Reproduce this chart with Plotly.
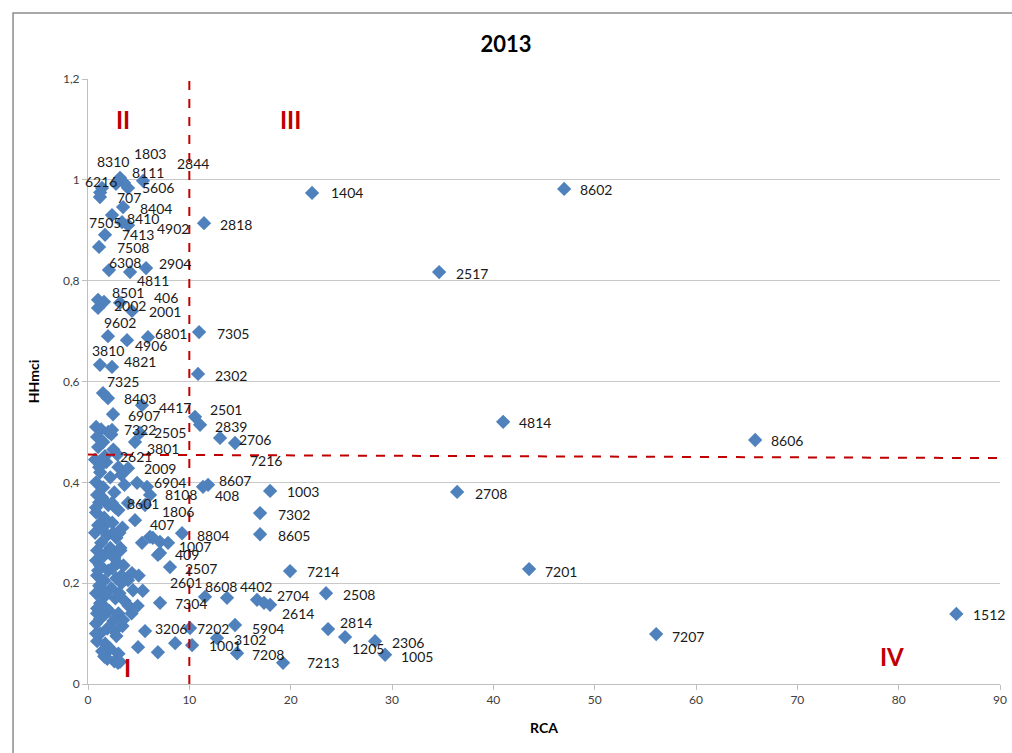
import plotly.graph_objects as go

# ---- labelled products (HS code, RCA, HHmci) ----
codes = ["1404","8602","2818","2517","7305","2302","4814","8606","2708","7201",
         "1512","7207","7214","2508","1003","7302","8605","7213","2814","1205",
         "2306","1005","7208","5904","3102","1001","7202","3206","7304","2601",
         "8608","4402","2704","2614","2507","409","1007","8804","407","1806",
         "8601","8108","6904","8607","408","2009","2621","3801","2505","7322",
         "6907","8403","4417","7325","3810","4821","9602","4906","6801","2001",
         "2002","406","8501","4811","6308","2904","7508","7413","4902","8410",
         "7505","8404","707","5606","6216","8111","2844","1803","8310","2501",
         "2839","2706","7216"]
rca = [22.11,46.99,11.45,34.65,10.96,10.86,40.97,65.84,36.43,43.53,
       85.69,56.07,19.94,23.49,17.97,16.98,16.98,19.25,23.69,25.37,
       28.33,29.32,14.71,14.51,12.73,10.27,10.07,5.63,7.11,11.55,
       13.72,16.68,17.97,17.37,8.09,7.11,7.90,9.28,4.64,5.63,
       2.37,6.12,4.84,11.85,11.35,3.95,1.68,4.64,5.13,2.37,
       2.47,1.97,5.33,1.48,1.18,2.37,1.97,3.85,5.92,4.34,
       0.99,3.16,0.99,4.15,2.07,5.73,1.09,1.68,3.95,3.36,
       2.37,3.46,1.18,3.95,1.38,5.43,3.55,3.16,2.76,10.56,
       11.06,13.03,14.51]
hhmci = [0.974,0.982,0.914,0.817,0.698,0.615,0.520,0.484,0.381,0.228,
         0.139,0.099,0.224,0.180,0.383,0.339,0.297,0.042,0.109,0.093,
         0.085,0.058,0.061,0.117,0.091,0.077,0.111,0.105,0.161,0.173,
         0.171,0.167,0.157,0.161,0.232,0.260,0.280,0.299,0.325,0.355,
         0.359,0.375,0.399,0.395,0.391,0.428,0.452,0.480,0.498,0.504,
         0.535,0.567,0.553,0.577,0.633,0.629,0.690,0.682,0.688,0.740,
         0.746,0.756,0.762,0.817,0.821,0.825,0.867,0.891,0.910,0.916,
         0.930,0.946,0.966,0.984,0.984,0.998,0.994,1.004,0.992,0.530,
         0.514,0.488,0.478]

# ---- unlabelled products ----
rca_other = [0.8,1.3,2.0,0.9,1.5,2.3,1.0,2.5,0.7,1.8,3.0,1.2,0.8,2.2,3.3,1.5,0.9,2.6,3.6,
             1.1,2.0,3.0,0.8,1.6,2.4,1.0,3.4,0.7,1.9,2.8,1.3,0.9,2.2,3.2,1.6,0.8,2.6,1.2,3.5,
             2.0,0.9,1.6,2.8,1.1,2.3,3.3,0.8,1.7,2.7,1.2,3.6,0.9,2.1,3.0,1.5,0.8,2.5,1.9,3.4,
             1.2,2.8,0.9,1.7,2.2,1.4,3.0,1.9,2.6,1.6,2.96,1.68,
             5.82,3.95,6.12,5.33,7.10,6.90,4.34,3.95,4.44,3.46,4.94,6.90,8.60,3.16,
             1.58,1.2,1.4,2.9,3.1,1.1,2.7,3.2,1.3,0.9,2.4,1.9,2.6,4.9,5.4,
             1.4,2.9,1.0,2.1,3.1,1.8,0.8,2.5,1.2,3.3,4.3,4.0,5.0,6.4,0.8,1.4]
hhmci_other = [0.510,0.505,0.500,0.490,0.480,0.495,0.470,0.465,0.445,0.440,0.430,0.420,0.400,0.410,0.415,0.390,0.375,0.380,0.395,
               0.360,0.355,0.345,0.340,0.330,0.320,0.315,0.310,0.300,0.295,0.290,0.280,0.265,0.270,0.265,0.255,0.245,0.250,0.235,0.235,
               0.225,0.215,0.205,0.210,0.195,0.190,0.200,0.180,0.175,0.170,0.160,0.165,0.150,0.145,0.140,0.135,0.120,0.125,0.110,0.115,
               0.100,0.095,0.085,0.080,0.070,0.065,0.060,0.050,0.045,0.055,0.042,0.054,
               0.391,0.359,0.292,0.280,0.282,0.256,0.220,0.206,0.186,0.127,0.073,0.063,0.081,0.044,
               0.758,0.975,0.440,0.455,0.300,0.430,0.350,0.270,0.190,0.140,0.230,0.320,0.105,0.155,0.185,
               0.370,0.240,0.225,0.260,0.180,0.150,0.100,0.300,0.130,0.215,0.140,0.155,0.215,0.290,0.350,0.310]

# thresholds of the quadrants
rca_cut = 10
hh_cut_left, hh_cut_right = 0.455, 0.448

quad_text = ["II", "III", "I", "IV"]
quad_x = [3.5, 20.0, 3.9, 79.3]
quad_y = [1.12, 1.12, 0.032, 0.055]

title = "2013"
x_ticks = [0, 10, 20, 30, 40, 50, 60, 70, 80, 90]
y_ticks = [0, 0.2, 0.4, 0.6, 0.8, 1.0, 1.2]
y_ticktext = ["0", "0,2", "0,4", "0,6", "0,8", "1", "1,2"]

# label offsets in pixels (dx right, dy down) for each labelled point - styling only
label_offsets = [(17,0),(14,1),(14,1),(15,1),(16,1),(15,2),(14,1),(14,1),(16,2),(14,2),
                 (15,1),(14,2),(15,0),(15,1),(15,1),(16,1),(16,1),(22,0),(10,-7),(5,11),
                 (15,1),(14,2),(13,1),(15,3),(15,1),(15,0),(5,0),(8,-3),(13,1),(-37,-14),
                 (-24,-11),(-19,-13),(5,-9),(16,11),(13,1),(13,2),(9,4),(13,2),(13,4),(15,6),
                 (13,0),(13,0),(15,0),(9,-4),(10,9),(14,0),(13,0),(10,6),(12,0),(10,0),
                 (13,1),(14,0),(15,2),(2,-12),(-10,-14),(10,-5),(-6,-14),(6,5),(5,-4),(15,1),
                 (14,-2),(32,-5),(12,-7),(5,8),(-2,-8),(11,-5),(16,1),(15,0),(27,3),(3,-4),
                 (-25,7),(15,1),(15,1),(12,0),(-19,-6),(-13,-8),(51,-19),(12,-24),(-21,-22),(13,-7),
                 (13,2),(17,2),(13,17)]

FONT = "Lato"
BLUE = "#4F81BD"
RED = "#C00000"

fig = go.Figure()
fig.add_trace(go.Scatter(x=rca_other, y=hhmci_other, mode="markers",
                         marker=dict(symbol="diamond", size=11, color=BLUE), hoverinfo="skip"))
fig.add_trace(go.Scatter(x=rca, y=hhmci, mode="markers", text=codes,
                         marker=dict(symbol="diamond", size=11, color=BLUE)))

annotations = []
for c, xv, yv, (dx, dy) in zip(codes, rca, hhmci, label_offsets):
    annotations.append(dict(x=xv, y=yv, xref="x", yref="y", text=c, showarrow=False,
                            xanchor="left", yanchor="middle", xshift=dx, yshift=-dy,
                            font=dict(family=FONT, size=14, color="#1a1a1a")))
for t, xv, yv in zip(quad_text, quad_x, quad_y):
    annotations.append(dict(x=xv, y=yv, xref="x", yref="y", text="<b>%s</b>" % t, showarrow=False,
                            xanchor="center", yanchor="middle",
                            font=dict(family=FONT, size=24, color=RED)))

shapes = [
    dict(type="line", xref="x", yref="y", x0=rca_cut, x1=rca_cut, y0=0, y1=1.2,
         line=dict(color=RED, width=2, dash="dash")),
    dict(type="line", xref="x", yref="y", x0=0, x1=90, y0=hh_cut_left, y1=hh_cut_right,
         line=dict(color=RED, width=2, dash="dash")),
    dict(type="rect", xref="paper", yref="paper", x0=-0.0822, x1=1.03, y0=-0.2, y1=1.109,
         line=dict(color="#8c8c8c", width=1.5), layer="below"),
]

fig.update_layout(
    width=1012, height=753,
    margin=dict(l=88, r=12, t=79, b=69, autoexpand=False),
    paper_bgcolor="white", plot_bgcolor="white",
    showlegend=False,
    title=dict(text="<b>%s</b>" % title, x=0.5, xanchor="center", y=0.9416, yanchor="middle",
               font=dict(family=FONT, size=22, color="black")),
    annotations=annotations, shapes=shapes,
    xaxis=dict(range=[0, 90], tickvals=x_ticks, showgrid=False, zeroline=False, automargin=False,
               showline=True, linecolor="#bfbfbf", linewidth=1,
               ticks="outside", ticklen=5, tickcolor="#bfbfbf",
               tickfont=dict(family=FONT, size=12, color="#404040"),
               title=dict(text="<b>RCA</b>", font=dict(family=FONT, size=14, color="black"), standoff=16)),
    yaxis=dict(range=[0, 1.2], tickvals=y_ticks, ticktext=y_ticktext, automargin=False,
               showgrid=True, gridcolor="#c8c8c8", gridwidth=1, zeroline=False,
               showline=True, linecolor="#bfbfbf", linewidth=1,
               ticks="outside", ticklen=5, tickcolor="#bfbfbf",
               tickfont=dict(family=FONT, size=12, color="#404040"),
               title=dict(text="<b>HHmci</b>", font=dict(family=FONT, size=14, color="black"), standoff=20)),
)
# remove the default page margin so the figure fills the 1012x753 window exactly
fig.write_html("out.html", config={"displayModeBar": False},
               post_script="document.body.style.margin='0';document.body.style.overflow='hidden';")
